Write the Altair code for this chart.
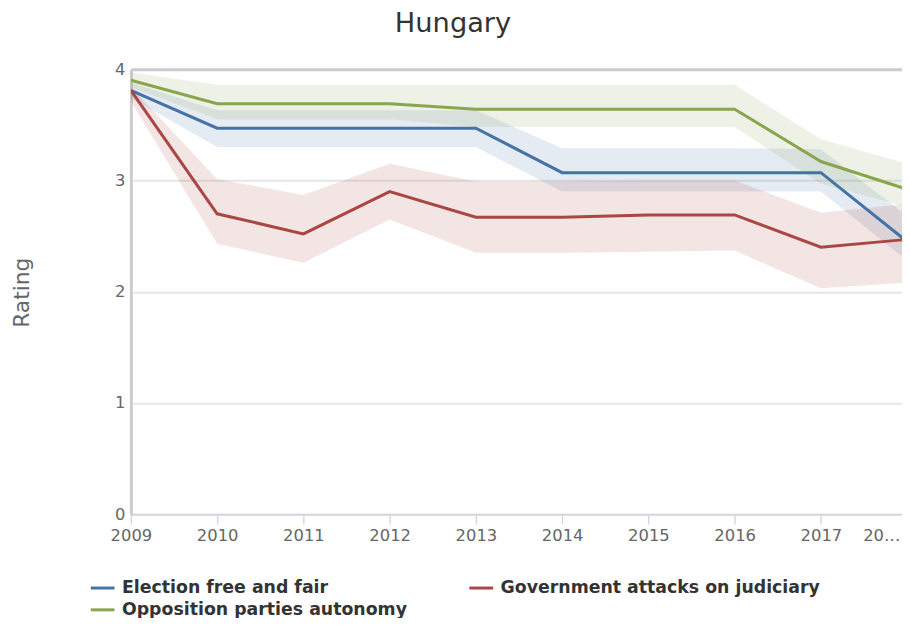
import altair as alt
import pandas as pd

years = [2009, 2010, 2011, 2012, 2013, 2014, 2015, 2016, 2017, 2018]
series_names = ["Election free and fair", "Government attacks on judiciary", "Opposition parties autonomy"]
series_colors = ["#4572A7", "#AA4643", "#89A54E"]

election = [3.81, 3.47, 3.47, 3.47, 3.47, 3.07, 3.07, 3.07, 3.07, 2.45]
election_lo = [3.74, 3.30, 3.30, 3.30, 3.30, 2.90, 2.90, 2.90, 2.90, 2.28]
election_hi = [3.88, 3.63, 3.63, 3.63, 3.63, 3.29, 3.29, 3.29, 3.28, 2.68]

judiciary = [3.81, 2.70, 2.52, 2.90, 2.67, 2.67, 2.69, 2.69, 2.40, 2.47]
judiciary_lo = [3.71, 2.43, 2.26, 2.65, 2.35, 2.35, 2.36, 2.37, 2.03, 2.08]
judiciary_hi = [3.84, 3.01, 2.87, 3.15, 2.99, 2.99, 3.00, 3.00, 2.71, 2.79]

opposition = [3.90, 3.69, 3.69, 3.69, 3.64, 3.64, 3.64, 3.64, 3.17, 2.92]
opposition_lo = [3.84, 3.55, 3.55, 3.55, 3.48, 3.48, 3.48, 3.48, 2.97, 2.76]
opposition_hi = [3.97, 3.86, 3.86, 3.86, 3.86, 3.86, 3.86, 3.86, 3.37, 3.15]

x_tick_values = [2009, 2010, 2011, 2012, 2013, 2014, 2015, 2016, 2017]
last_label = ["20…"]
last_label_pos = [2017.92]
y_tick_values = [0, 1, 2, 3, 4]

rows = []
for name, mid, lo, hi in [
    (series_names[0], election, election_lo, election_hi),
    (series_names[1], judiciary, judiciary_lo, judiciary_hi),
    (series_names[2], opposition, opposition_lo, opposition_hi),
]:
    for yr, m, l, h in zip(years, mid, lo, hi):
        rows.append({"year": yr, "series": name, "value": m, "lo": l, "hi": h})
df = pd.DataFrame(rows)
df_last = pd.DataFrame({"year": last_label_pos, "label": last_label})

FONT = "DejaVu Sans"

x_axis = alt.Axis(
    values=x_tick_values,
    tickCount=9,
    format="d",
    title=None,
    grid=False,
    domainColor="#d4d8e0",
    domainWidth=2,
    tickColor="#d4d8e0",
    tickWidth=1.5,
    tickSize=10,
    labelPadding=4,
    labelFontSize=16.5,
    labelColor="#666666",
    labelFont=FONT,
    labelFlush=False,
    labelOverlap=False,
)
x_scale = alt.Scale(domain=[2009, 2017.94], nice=False, zero=False)

y_axis = alt.Axis(
    values=y_tick_values,
    format="d",
    title="Rating",
    titleX=-110,
    titleY=225,
    titleAngle=-90,
    titleAlign="center",
    titleBaseline="middle",
    titleFontSize=22,
    titleFontWeight="normal",
    titleColor="#666666",
    titleFont=FONT,
    grid=True,
    gridColor={"condition": {"test": "datum.value == 4", "value": "#cccccc"}, "value": "#e6e6e6"},
    gridWidth={"condition": {"test": "datum.value == 4", "value": 3}, "value": 2},
    domainColor="#cccccc",
    domainWidth=3,
    ticks=False,
    labelPadding=6,
    labelFontSize=16.5,
    labelColor="#666666",
    labelFont=FONT,
)
y_scale = alt.Scale(domain=[0, 4], nice=False)

legend = alt.Legend(
    title=None,
    orient="none",
    direction="horizontal",
    legendX=-42,
    legendY=510,
    columns=2,
    gridAlign="each",
    columnPadding=56,
    rowPadding=0,
    padding=0,
    symbolType="stroke",
    symbolSize=576,
    symbolStrokeWidth=3,
    labelFontSize=17.5,
    labelFontWeight="bold",
    labelColor="#333333",
    labelFont=FONT,
    labelLimit=400,
    labelOffset=6,
)
color_scale = alt.Scale(domain=series_names, range=series_colors)

bands = alt.Chart(df).mark_area(opacity=0.14, clip=True).encode(
    x=alt.X("year:Q", scale=x_scale, axis=x_axis),
    y=alt.Y("lo:Q", scale=y_scale, axis=y_axis),
    y2="hi:Q",
    color=alt.Color("series:N", scale=color_scale, legend=None),
)

lines = alt.Chart(df).mark_line(strokeWidth=3, clip=True).encode(
    x=alt.X("year:Q", scale=x_scale, axis=x_axis),
    y=alt.Y("value:Q", scale=y_scale, axis=y_axis),
    color=alt.Color("series:N", scale=color_scale, legend=legend),
)

last_text = alt.Chart(df_last).mark_text(
    fontSize=16.5, font=FONT, color="#666666", baseline="top", align="right"
).encode(
    x=alt.X("year:Q", scale=x_scale, axis=x_axis),
    y=alt.value(463),
    text="label:N",
)

chart = (
    alt.layer(bands, lines, last_text)
    .resolve_legend(color="independent")
    .properties(
        width=778,
        height=449,
        autosize=alt.AutoSizeParams(type="none"),
        padding={"left": 124, "top": 59, "right": 0, "bottom": 102},
        title=alt.TitleParams(
            "Hungary",
            fontSize=27.5,
            fontWeight="normal",
            color="#333333",
            font=FONT,
            anchor="middle",
            dx=-64,
            offset=24,
        ),
    )
    .configure_view(stroke=None)
    .configure(background="white")
)

chart.save("out.html", embed_options={"renderer": "svg", "actions": False})
